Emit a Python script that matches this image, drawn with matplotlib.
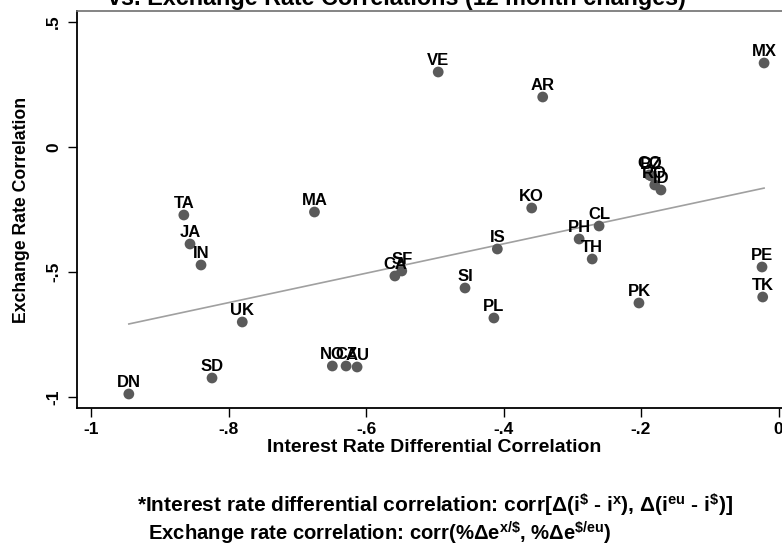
import numpy as np
import matplotlib
matplotlib.use('Agg')
import matplotlib.pyplot as plt

# Country codes and the two correlations for each
countries = ['DN', 'SD', 'UK', 'NO', 'CZ', 'AU', 'TA', 'JA', 'IN', 'MA',
             'CA', 'SF', 'SI', 'PL', 'IS', 'KO', 'PH', 'CL', 'TH', 'PK',
             'PE', 'TK', 'MX', 'VE', 'AR', 'CO', 'BZ', 'RO', 'ID']
ir_corr = [-0.945, -0.824, -0.780, -0.649, -0.629, -0.613, -0.865, -0.856, -0.840, -0.675,
           -0.558, -0.548, -0.456, -0.414, -0.409, -0.359, -0.290, -0.261, -0.271, -0.203,
           -0.024, -0.023, -0.021, -0.495, -0.343, -0.188, -0.185, -0.180, -0.171]
fx_corr = [-0.988, -0.924, -0.700, -0.876, -0.876, -0.880, -0.272, -0.388, -0.472, -0.260,
           -0.516, -0.496, -0.564, -0.684, -0.408, -0.244, -0.368, -0.316, -0.448, -0.624,
           -0.480, -0.600, 0.336, 0.300, 0.200, -0.112, -0.116, -0.152, -0.172]

xticks = [-1, -0.8, -0.6, -0.4, -0.2, 0]
xtick_labels = ['-1', '-.8', '-.6', '-.4', '-.2', '0']
yticks = [-1, -0.5, 0, 0.5]
ytick_labels = ['-1', '-.5', '0', '.5']

plt.rcParams['font.family'] = ['Liberation Sans', 'DejaVu Sans']
plt.rcParams['font.weight'] = 'bold'
plt.rcParams['mathtext.fontset'] = 'custom'
plt.rcParams['mathtext.rm'] = 'Liberation Sans:bold'
plt.rcParams['mathtext.bf'] = 'Liberation Sans:bold'
plt.rcParams['mathtext.it'] = 'Liberation Sans:bold'
plt.rcParams['mathtext.default'] = 'bf'

W, H = 782, 551
fig = plt.figure(figsize=(W / 100, H / 100), dpi=100)
ax = fig.add_axes([77 / W, 1 - 408 / H, 713 / W, 397 / H])

x = np.array(ir_corr)
y = np.array(fx_corr)

# linear fit line across the data range
b, a = np.polyfit(x, y, 1)
xs = np.array([x.min(), x.max()])
ax.plot(xs, a + b * xs, color='#a0a0a0', lw=1.2, zorder=1)

ax.scatter(x, y, s=60, color='#5a5a5a', edgecolors='none', zorder=2)
for name, xi, yi in zip(countries, x, y):
    ax.annotate(name, (xi, yi), xytext=(0, 5), textcoords='offset points',
                ha='center', va='baseline', fontsize=12, fontweight='bold')

ax.set_xlim(-1.0204, 0.0167)
ax.set_ylim(-1.044, 0.544)
ax.set_xticks(xticks)
ax.set_xticklabels(xtick_labels)
ax.set_yticks(yticks)
ax.set_yticklabels(ytick_labels, rotation=90, va='center')
ax.tick_params(direction='out', length=6.5, width=1, labelsize=12.5)
ax.tick_params(axis='y', pad=5)
for lab in ax.get_xticklabels() + ax.get_yticklabels():
    lab.set_fontweight('bold')

ax.spines['left'].set_linewidth(1.3)
ax.spines['bottom'].set_linewidth(1.3)
ax.spines['top'].set_color('#707070')
ax.spines['top'].set_linewidth(1.2)
ax.spines['right'].set_visible(False)

ax.set_xlabel('Interest Rate Differential Correlation', fontsize=14, fontweight='bold')
ax.set_ylabel('Exchange Rate Correlation', fontsize=12.7, fontweight='bold')
ax.xaxis.set_label_coords(0.5007, 1 - (447 - 11) / 397)
ax.xaxis.label.set_va('center')
ax.yaxis.set_label_coords((22 - 77) / 713, 0.5)
ax.yaxis.label.set_va('center')

# title runs off the top edge
fig.text(401 / W, 1 - 5 / H, 'vs. Exchange Rate Correlations (12 month changes)*',
         ha='center', va='baseline', fontsize=16.8, fontweight='bold')

fig.text(137 / W, 1 - 505 / H,
         r'*Interest rate differential correlation: corr[Δ(i$^{\$}$ - i$^{x}$), Δ(i$^{eu}$ - i$^{\$}$)]',
         ha='left', va='center', fontsize=15, fontweight='bold')
fig.text(148 / W, 1 - 533 / H,
         r'Exchange rate correlation: corr(%Δe$^{x/\$}$, %Δe$^{\$/eu}$)',
         ha='left', va='center', fontsize=14.6, fontweight='bold')

fig.savefig('out.png', dpi=100)
